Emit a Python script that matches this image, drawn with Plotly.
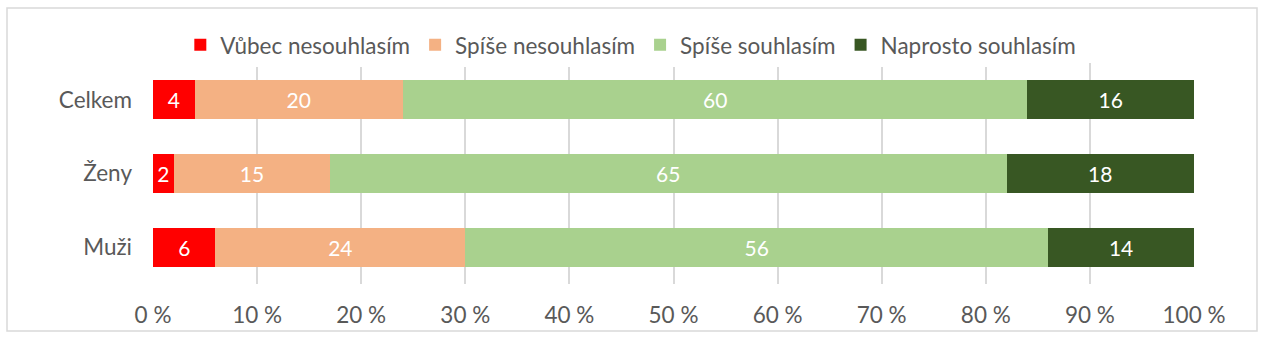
import plotly.graph_objects as go

# Survey answers by group (percent of respondents)
categories = ["Celkem", "Ženy", "Muži"]
answers = ["Vůbec nesouhlasím", "Spíše nesouhlasím", "Spíše souhlasím", "Naprosto souhlasím"]
vubec_nesouhlasim = [4, 2, 6]
spise_nesouhlasim = [20, 15, 24]
spise_souhlasim = [60, 65, 56]
naprosto_souhlasim = [16, 18, 14]

tick_values = [0, 10, 20, 30, 40, 50, 60, 70, 80, 90, 100]
tick_labels = ["0 %", "10 %", "20 %", "30 %", "40 %", "50 %", "60 %", "70 %", "80 %", "90 %", "100 %"]

series = [vubec_nesouhlasim, spise_nesouhlasim, spise_souhlasim, naprosto_souhlasim]
colors = ["#ff0000", "#f4b183", "#a9d18e", "#385723"]

FONT = "Lato"
TEXT_GREY = "#595959"
SIZE = 22.5

fig = go.Figure()
for name, vals, col in zip(answers, series, colors):
    fig.add_trace(go.Bar(
        y=categories,
        x=vals,
        name=name,
        orientation="h",
        marker=dict(color=col, line=dict(width=0)),
        text=[str(v) for v in vals],
        textposition="inside",
        insidetextanchor="middle",
        textangle=0,
        textfont=dict(family=FONT, size=21, color="white"),
        width=0.53,
    ))

fig.update_layout(
    barmode="stack",
    width=1267,
    height=340,
    margin=dict(l=153, r=73, t=63, b=56),
    paper_bgcolor="white",
    plot_bgcolor="white",
    font=dict(family=FONT, size=SIZE, color=TEXT_GREY),
    uniformtext=dict(minsize=8, mode="show"),
    showlegend=True,
    legend=dict(
        orientation="h",
        x=0.459,
        xanchor="center",
        y=1.081,
        yanchor="middle",
        font=dict(family=FONT, size=SIZE, color=TEXT_GREY),
        traceorder="normal",
        itemclick=False,
    ),
    xaxis=dict(
        range=[0, 100],
        tickvals=tick_values,
        ticktext=tick_labels,
        showgrid=True,
        gridcolor="#d9d9d9",
        gridwidth=1.5,
        zeroline=False,
        showline=False,
        ticks="",
        ticklabelstandoff=15,
        tickfont=dict(family=FONT, size=SIZE, color=TEXT_GREY),
    ),
    yaxis=dict(
        categoryorder="array",
        categoryarray=categories[::-1],
        showgrid=False,
        zeroline=False,
        showline=False,
        ticks="",
        ticklabelstandoff=20,
        tickfont=dict(family=FONT, size=SIZE, color=TEXT_GREY),
    ),
    shapes=[
        dict(
            type="rect", xref="paper", yref="paper",
            x0=-146 / 1041, x1=1104 / 1041,
            y0=-47 / 221, y1=276 / 221,
            line=dict(color="#d9d9d9", width=1.5),
            fillcolor="rgba(0,0,0,0)",
            layer="below",
        )
    ],
)

fig.write_html("out.html")
